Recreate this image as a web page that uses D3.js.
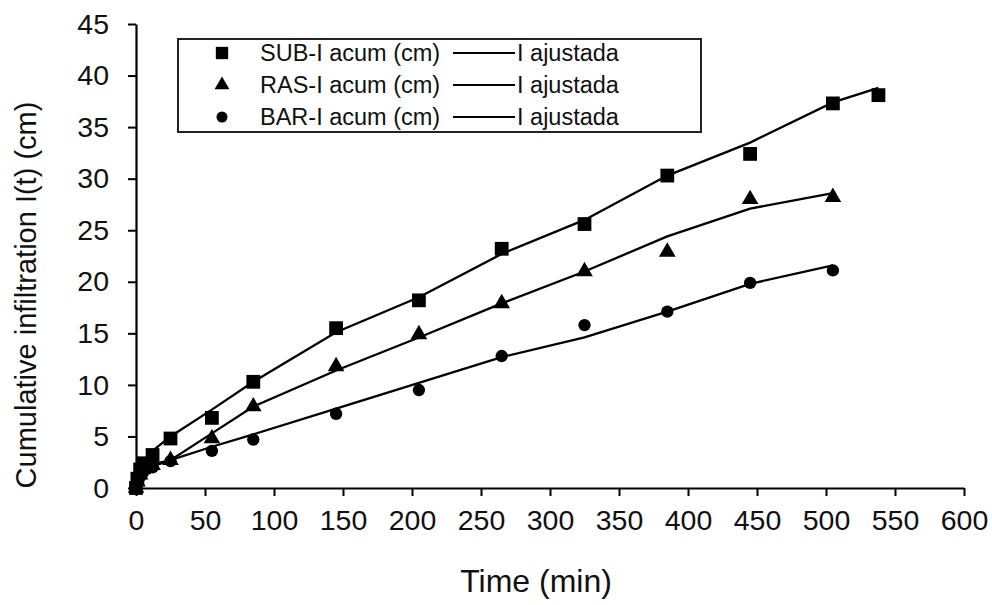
<!DOCTYPE html>
<html>
<head>
<meta charset="utf-8">
<script src="https://cdn.jsdelivr.net/npm/d3@7"></script>
<style>
  body { margin: 0; background: #fff; }
  svg { font-family: "Liberation Sans", Arial, sans-serif; }
</style>
</head>
<body>
<svg id="chart" width="992" height="605"></svg>
<script>
// data
const times = [0, 1, 3, 5, 12, 25, 55, 85, 145, 205, 265, 325, 385, 445, 505];
const subTimes = times.concat([538]);

const subObs = [0, 0.9, 1.8, 2.4, 3.2, 4.8, 6.8, 10.3, 15.5, 18.2, 23.2, 25.6, 30.3, 32.4, 37.3, 38.1];
const subFit = [0, 1.0, 1.9, 2.5, 3.6, 5.0, 7.6, 10.3, 15.1, 18.5, 22.7, 26.0, 30.3, 33.5, 37.4, 38.8];

const rasObs = [0, 0.6, 1.3, 1.8, 2.2, 2.7, 4.8, 7.9, 11.8, 14.9, 17.9, 21.0, 22.9, 28.0, 28.2];
const rasFit = [0, 0.7, 1.4, 1.9, 2.3, 2.7, 5.3, 7.9, 11.4, 14.6, 17.9, 21.0, 24.4, 27.1, 28.6];

const barObs = [0, 0.5, 1.1, 1.5, 2.0, 2.6, 3.6, 4.7, 7.2, 9.5, 12.8, 15.8, 17.1, 19.9, 21.1];
const barFit = [0, 0.6, 1.2, 1.6, 2.1, 2.7, 4.0, 5.2, 7.7, 10.2, 12.7, 14.6, 17.1, 19.8, 21.6];

const xTicks = d3.range(0, 601, 50);
const yTicks = d3.range(0, 46, 5);

const series = [
  { name: "SUB-I acum (cm)", t: subTimes, obs: subObs, fit: subFit, symbol: d3.symbolSquare, size: 190 },
  { name: "RAS-I acum (cm)", t: times, obs: rasObs, fit: rasFit, symbol: d3.symbolTriangle, size: 120 },
  { name: "BAR-I acum (cm)", t: times, obs: barObs, fit: barFit, symbol: d3.symbolCircle, size: 120 }
];

const svg = d3.select("#chart");
const x = d3.scaleLinear().domain([0, 600]).range([136, 964]);
const y = d3.scaleLinear().domain([0, 45]).range([488, 24]);

// axes
const xAxis = svg.append("g")
  .attr("transform", `translate(0,${y(0)})`)
  .call(d3.axisBottom(x).tickValues(xTicks).tickSize(8).tickPadding(14).tickSizeOuter(0));
const yAxis = svg.append("g")
  .attr("transform", `translate(${x(0)},0)`)
  .call(d3.axisLeft(y).tickValues(yTicks).tickSize(8).tickPadding(19).tickSizeOuter(0));

[xAxis, yAxis].forEach(g => {
  g.select(".domain").attr("stroke", "#000").attr("stroke-width", 2.2);
  g.selectAll(".tick line").attr("stroke", "#000").attr("stroke-width", 2);
  g.selectAll(".tick text").attr("fill", "#111").style("font-size", "28.5px")
    .style("font-family", "'Liberation Sans', Arial, sans-serif");
});

// axis titles
svg.append("text")
  .attr("x", 536).attr("y", 592)
  .attr("text-anchor", "middle")
  .style("font-size", "32px").attr("fill", "#111")
  .text("Time (min)");

svg.append("text")
  .attr("transform", "translate(36,295) rotate(-90)")
  .attr("text-anchor", "middle")
  .style("font-size", "29px").attr("fill", "#111")
  .text("Cumulative infiltration I(t) (cm)");

// fitted lines
const line = d3.line().x(d => x(d[0])).y(d => y(d[1]));
series.forEach(s => {
  svg.append("path")
    .datum(s.t.map((t, i) => [t, s.fit[i]]))
    .attr("d", line)
    .attr("fill", "none")
    .attr("stroke", "#000")
    .attr("stroke-width", 2.3);
});

// observed points
series.forEach(s => {
  svg.append("g").selectAll("path")
    .data(s.t.map((t, i) => [t, s.obs[i]]))
    .join("path")
    .attr("transform", d => `translate(${x(d[0])},${y(d[1])})`)
    .attr("d", d3.symbol().type(s.symbol).size(s.size))
    .attr("fill", "#000");
});

// legend
const legend = svg.append("g");
legend.append("rect")
  .attr("x", 178).attr("y", 39).attr("width", 523).attr("height", 93)
  .attr("fill", "#fff").attr("stroke", "#222").attr("stroke-width", 2);

series.forEach((s, i) => {
  const cy = 53 + i * 32;
  legend.append("path")
    .attr("transform", `translate(222,${cy})`)
    .attr("d", d3.symbol().type(s.symbol).size(s.size * 0.8))
    .attr("fill", "#000");
  legend.append("text")
    .attr("x", 260).attr("y", cy + 8)
    .style("font-size", "23.5px").attr("fill", "#111")
    .text(s.name);
  legend.append("line")
    .attr("x1", 453).attr("x2", 515).attr("y1", cy).attr("y2", cy)
    .attr("stroke", "#000").attr("stroke-width", 2);
  legend.append("text")
    .attr("x", 517).attr("y", cy + 8)
    .style("font-size", "23.5px").attr("fill", "#111")
    .text("I ajustada");
});
</script>
</body>
</html>
